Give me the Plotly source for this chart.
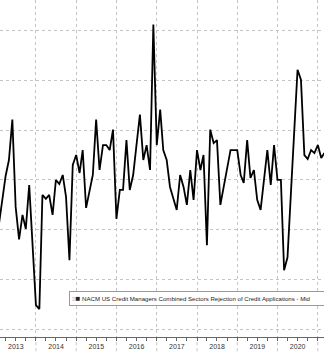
import pandas as pd
import plotly.graph_objects as go

# Monthly index values, Feb 2013 .. Mar 2021
start_month = "2013-02-01"
values = [
    49.14, 49.58, 50.08, 50.40, 51.21, 49.46, 48.81, 49.30, 49.02, 49.90, 48.69,
    47.49, 47.41, 49.70, 49.62, 49.70, 49.30, 50.00, 49.92, 50.10, 49.66, 48.39, 50.30,
    50.50, 50.14, 50.60, 49.44, 49.76, 50.10, 51.21, 50.20, 50.70, 50.70, 50.60, 51.01,
    49.22, 49.80, 49.80, 50.80, 49.80, 50.10, 50.70, 51.31, 50.40, 50.70, 50.20, 53.12,
    50.70, 51.41, 50.60, 50.40, 49.86, 49.60, 49.40, 50.10, 49.86, 49.50, 50.20, 49.60,
    50.60, 50.20, 50.50, 48.69, 51.01, 50.74, 50.80, 49.50, 49.90, 50.26, 50.60, 50.60,
    50.60, 50.10, 49.94, 50.80, 50.04, 50.20, 49.60, 49.40, 50.00, 50.60, 49.90, 50.70,
    50.00, 50.00, 48.19, 48.45, 49.70, 51.01, 52.21, 52.01, 50.50, 50.42, 50.60, 50.54,
    50.70, 50.44, 50.54,
]
dates = pd.date_range(start_month, periods=len(values), freq="MS")
year_starts = [f"{y}-01-01" for y in range(2013, 2022)]
series_name = "NACM US Credit Managers Combined Sectors Rejection of Credit Applications - Mid"

FONT = "Liberation Sans"
GRID = "#c4c4c4"

fig = go.Figure()
fig.add_trace(go.Scatter(x=dates, y=values, mode="lines",
                         line=dict(color="#000000", width=1.8),
                         showlegend=False, hoverinfo="skip"))

fig.update_layout(
    width=324, height=353,
    margin=dict(l=0, r=0, t=0, b=16),
    paper_bgcolor="white", plot_bgcolor="white",
    font=dict(family=FONT, size=7, color="#333333"),
    xaxis=dict(
        type="date",
        range=["2013-02-09", "2021-02-26"],
        dtick="M12", tick0="2013-01-01",
        tickformat="%Y", ticklabelmode="period",
        showgrid=True, gridcolor=GRID, griddash="dot", gridwidth=1,
        showline=True, linecolor="#666666", linewidth=1,
        ticks="outside", ticklen=3, tickcolor="#666666",
        minor=dict(dtick="M3", ticks="outside", ticklen=3, tickcolor="#666666", showgrid=False),
        tickfont=dict(family=FONT, size=7, color="#333333"),
        zeroline=False, fixedrange=True,
    ),
    yaxis=dict(
        range=[46.85, 53.61], dtick=1, tick0=47,
        showgrid=True, gridcolor=GRID, griddash="dot", gridwidth=1,
        showticklabels=False, showline=False, zeroline=False, ticks="",
        fixedrange=True,
    ),
)

for d in year_starts:
    fig.add_shape(type="line", xref="x", yref="paper", x0=d, x1=d, y0=-0.06, y1=0,
                  line=dict(color=GRID, width=1, dash="dot"), layer="below")

fig.add_annotation(
    xref="paper", yref="paper", x=69 / 324, y=1 - 298.5 / 337,
    xanchor="left", yanchor="middle", align="left",
    text=("<span style='color:#b0b0b0;font-size:6px'>≡</span>"
          "<span style='font-size:8px'>■</span> " + series_name),
    showarrow=False, width=300,
    font=dict(family=FONT, size=6.1, color="#222222"),
    bgcolor="white", bordercolor="#9a9a9a", borderwidth=1, borderpad=2,
)

fig.write_html("out.html")
